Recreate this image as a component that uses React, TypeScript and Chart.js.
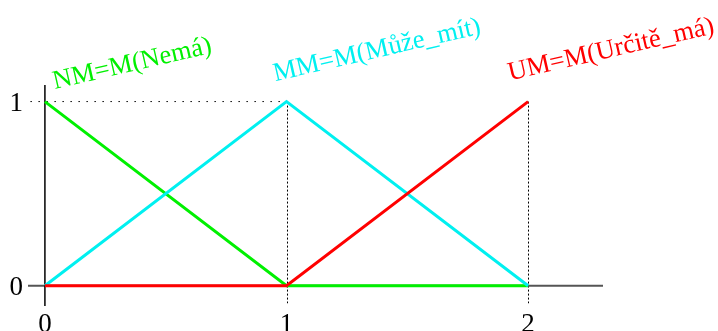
import React, { useEffect, useRef } from "react";
import { Chart, registerables } from "chart.js";

Chart.register(...registerables);

// Membership functions over the universe 0..2
const xValues = [0, 1, 2];
const nmValues = [1, 0, 0];
const mmValues = [0, 1, 0];
const umValues = [0, 0, 1];
const seriesNames = ["NM=M(Nemá)", "MM=M(Může_mít)", "UM=M(Určitě_má)"];
const xTickLabels = [0, 1, 2];
const yTickLabels = [0, 1];

const GREEN = "#00f000";
const CYAN = "#00f0f0";
const RED = "#ff0000";

const toPoints = (ys: number[]) => xValues.map((x, i) => ({ x, y: ys[i] }));

// Hand-drawn axes, guide lines, tick labels and the rotated curve captions
const axesPlugin = {
  id: "fuzzyAxes",
  beforeDatasetsDraw(chart: any) {
    const { ctx, scales } = chart;
    const xs = scales.x;
    const ys = scales.y;
    const px = (v: number) => xs.getPixelForValue(v);
    const py = (v: number) => ys.getPixelForValue(v);
    ctx.save();

    // dotted guides
    ctx.strokeStyle = "#000";
    ctx.lineWidth = 1;
    ctx.setLineDash([1.5, 6.5]);
    ctx.beginPath();
    ctx.moveTo(px(-0.06), py(1));
    ctx.lineTo(px(1), py(1));
    ctx.stroke();
    ctx.setLineDash([2, 2]);
    [1, 2].forEach((v) => {
      ctx.beginPath();
      ctx.moveTo(Math.round(px(v)) + 0.5, py(1));
      ctx.lineTo(Math.round(px(v)) + 0.5, py(-0.095));
      ctx.stroke();
    });
    ctx.setLineDash([]);

    // x axis
    ctx.strokeStyle = "#555";
    ctx.lineWidth = 2;
    ctx.beginPath();
    ctx.moveTo(px(xs.min), py(0));
    ctx.lineTo(px(xs.max), py(0));
    ctx.stroke();

    // y axis
    ctx.strokeStyle = "#000";
    ctx.lineWidth = 1.5;
    ctx.beginPath();
    ctx.moveTo(px(0), py(ys.max));
    ctx.lineTo(px(0), py(ys.min));
    ctx.stroke();
    ctx.restore();
  },
  afterDraw(chart: any) {
    const { ctx, scales } = chart;
    const px = (v: number) => scales.x.getPixelForValue(v);
    const py = (v: number) => scales.y.getPixelForValue(v);
    ctx.save();
    ctx.fillStyle = "#000";
    ctx.font = `27px "Liberation Serif"`;
    ctx.textBaseline = "alphabetic";
    ctx.textAlign = "right";
    yTickLabels.forEach((v) => ctx.fillText(String(v), 23, py(v) + 9.5));
    ctx.textAlign = "center";
    xTickLabels.forEach((v) => ctx.fillText(String(v), px(v), 331.5));

    const captions = [
      { text: seriesNames[0], color: GREEN, x: 0.041, y: 1.068 },
      { text: seriesNames[1], color: CYAN, x: 0.953, y: 1.111 },
      { text: seriesNames[2], color: RED, x: 1.925, y: 1.115 },
    ];
    ctx.font = `26.5px "Liberation Serif"`;
    ctx.textAlign = "left";
    captions.forEach((c) => {
      ctx.save();
      ctx.translate(px(c.x), py(c.y));
      ctx.rotate((-13 * Math.PI) / 180);
      ctx.fillStyle = c.color;
      ctx.fillText(c.text, 0, 0);
      ctx.restore();
    });
    ctx.restore();
  },
};

export default function App() {
  const canvasRef = useRef<HTMLCanvasElement | null>(null);

  useEffect(() => {
    if (!canvasRef.current) return;
    const lineStyle = { borderWidth: 3, pointRadius: 0, fill: false, tension: 0 };
    const chart = new Chart(canvasRef.current, {
      type: "line",
      data: {
        datasets: [
          { label: seriesNames[0], data: toPoints(nmValues), borderColor: GREEN, ...lineStyle, order: 2 },
          { label: seriesNames[1], data: toPoints(mmValues), borderColor: CYAN, ...lineStyle, order: 1 },
          { label: seriesNames[2], data: toPoints(umValues), borderColor: RED, ...lineStyle, order: 0 },
        ],
      },
      options: {
        animation: false,
        responsive: true,
        maintainAspectRatio: false,
        layout: { padding: { left: 28, right: 115, top: 85, bottom: 25 } },
        plugins: { legend: { display: false }, tooltip: { enabled: false } },
        scales: {
          x: { type: "linear", min: -0.07, max: 2.31, display: false },
          y: { type: "linear", min: -0.11, max: 1.09, display: false },
        },
      },
      plugins: [axesPlugin],
    });
    return () => chart.destroy();
  }, []);

  return (
    <div style={{ position: "fixed", left: 0, top: 0, width: 718, height: 331, background: "#fff" }}>
      <canvas ref={canvasRef} />
    </div>
  );
}
